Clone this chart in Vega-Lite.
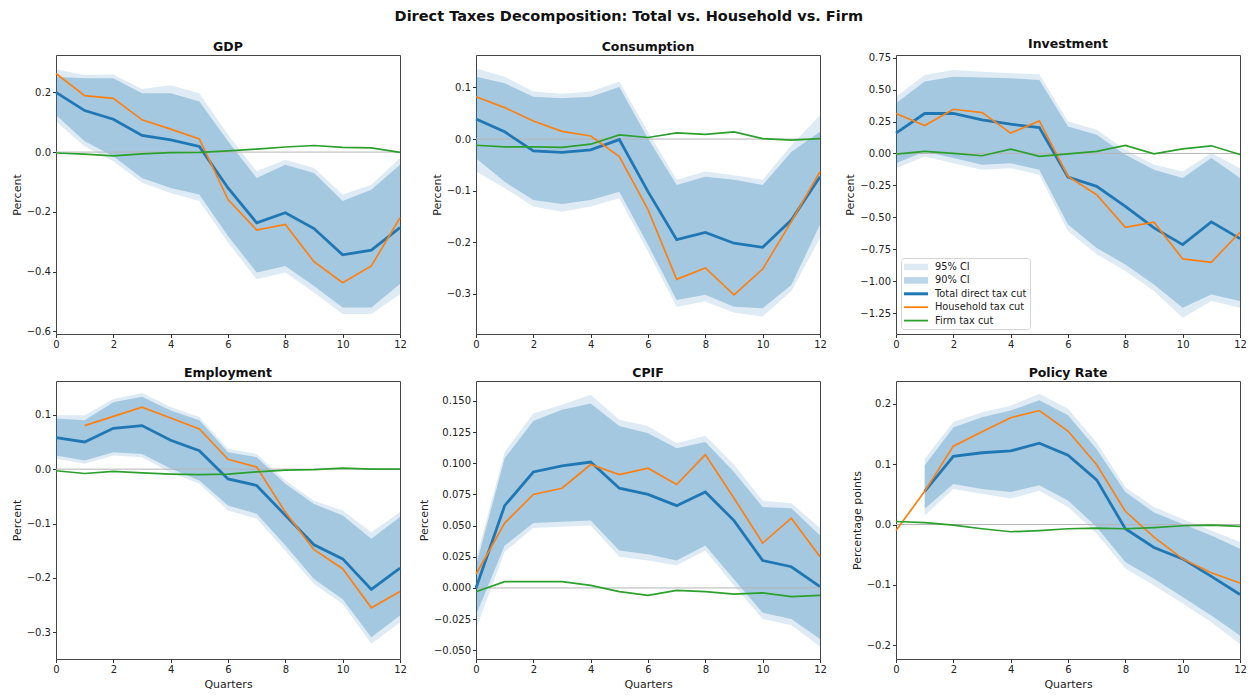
{
  "$schema": "https://vega.github.io/schema/vega-lite/v6.json",
  "background": "white",
  "padding": {"left": 10, "top": 9, "right": 10, "bottom": 5},
  "title": {"text": "Direct Taxes Decomposition: Total vs. Household vs. Firm", "fontSize": 14.5, "font": "DejaVu Sans", "fontWeight": "bold", "color": "#111", "anchor": "middle", "offset": 13},
  "config": {
    "font": "DejaVu Sans",
    "view": {"stroke": "#444", "strokeWidth": 1},
    "title": {"font": "DejaVu Sans", "fontSize": 12.5, "fontWeight": "bold", "color": "#111", "offset": 2},
    "axis": {"labelFont": "DejaVu Sans", "labelFontSize": 10, "labelColor": "#222", "titleFont": "DejaVu Sans", "titleFontSize": 11, "titleFontWeight": "normal", "titleColor": "#222", "tickColor": "#333", "tickSize": 3.5, "labelPadding": 2, "domain": false, "grid": false, "titlePadding": 4, "labelFlush": false, "labelOverlap": false, "labelBound": false}
  },
  "data": {"values": [
    {"panel": "GDP", "q": 0, "total": 0.2, "household": 0.263, "firm": -0.003, "lo90": 0.124, "hi90": 0.252, "lo95": 0.102, "hi95": 0.277},
    {"panel": "GDP", "q": 1, "total": 0.139, "household": 0.189, "firm": -0.007, "lo90": 0.036, "hi90": 0.247, "lo95": 0.019, "hi95": 0.258},
    {"panel": "GDP", "q": 2, "total": 0.11, "household": 0.18, "firm": -0.013, "lo90": -0.014, "hi90": 0.247, "lo95": -0.031, "hi95": 0.26},
    {"panel": "GDP", "q": 3, "total": 0.056, "household": 0.108, "firm": -0.006, "lo90": -0.087, "hi90": 0.197, "lo95": -0.103, "hi95": 0.211},
    {"panel": "GDP", "q": 4, "total": 0.041, "household": 0.077, "firm": -0.002, "lo90": -0.12, "hi90": 0.197, "lo95": -0.137, "hi95": 0.224},
    {"panel": "GDP", "q": 5, "total": 0.019, "household": 0.044, "firm": -0.001, "lo90": -0.142, "hi90": 0.169, "lo95": -0.164, "hi95": 0.197},
    {"panel": "GDP", "q": 6, "total": -0.12, "household": -0.159, "firm": 0.004, "lo90": -0.281, "hi90": 0.036, "lo95": -0.303, "hi95": 0.058},
    {"panel": "GDP", "q": 7, "total": -0.237, "household": -0.261, "firm": 0.01, "lo90": -0.403, "hi90": -0.087, "lo95": -0.426, "hi95": -0.064},
    {"panel": "GDP", "q": 8, "total": -0.203, "household": -0.242, "firm": 0.017, "lo90": -0.381, "hi90": -0.042, "lo95": -0.403, "hi95": -0.026},
    {"panel": "GDP", "q": 9, "total": -0.256, "household": -0.367, "firm": 0.022, "lo90": -0.448, "hi90": -0.07, "lo95": -0.47, "hi95": -0.053},
    {"panel": "GDP", "q": 10, "total": -0.344, "household": -0.437, "firm": 0.016, "lo90": -0.52, "hi90": -0.164, "lo95": -0.542, "hi95": -0.142},
    {"panel": "GDP", "q": 11, "total": -0.328, "household": -0.381, "firm": 0.014, "lo90": -0.52, "hi90": -0.126, "lo95": -0.542, "hi95": -0.109},
    {"panel": "GDP", "q": 12, "total": -0.253, "household": -0.22, "firm": -0.001, "lo90": -0.442, "hi90": -0.042, "lo95": -0.476, "hi95": -0.02},

    {"panel": "Consumption", "q": 0, "total": 0.039, "household": 0.082, "firm": -0.012, "lo90": -0.037, "hi90": 0.121, "lo95": -0.063, "hi95": 0.137},
    {"panel": "Consumption", "q": 1, "total": 0.014, "household": 0.061, "firm": -0.015, "lo90": -0.083, "hi90": 0.108, "lo95": -0.095, "hi95": 0.121},
    {"panel": "Consumption", "q": 2, "total": -0.023, "household": 0.035, "firm": -0.015, "lo90": -0.118, "hi90": 0.082, "lo95": -0.131, "hi95": 0.092},
    {"panel": "Consumption", "q": 3, "total": -0.026, "household": 0.015, "firm": -0.016, "lo90": -0.126, "hi90": 0.079, "lo95": -0.141, "hi95": 0.088},
    {"panel": "Consumption", "q": 4, "total": -0.021, "household": 0.006, "firm": -0.01, "lo90": -0.118, "hi90": 0.082, "lo95": -0.131, "hi95": 0.092},
    {"panel": "Consumption", "q": 5, "total": -0.001, "household": -0.034, "firm": 0.008, "lo90": -0.102, "hi90": 0.101, "lo95": -0.115, "hi95": 0.111},
    {"panel": "Consumption", "q": 6, "total": -0.102, "household": -0.137, "firm": 0.003, "lo90": -0.205, "hi90": 0.001, "lo95": -0.218, "hi95": 0.014},
    {"panel": "Consumption", "q": 7, "total": -0.195, "household": -0.272, "firm": 0.012, "lo90": -0.312, "hi90": -0.089, "lo95": -0.325, "hi95": -0.079},
    {"panel": "Consumption", "q": 8, "total": -0.181, "household": -0.25, "firm": 0.009, "lo90": -0.302, "hi90": -0.073, "lo95": -0.315, "hi95": -0.063},
    {"panel": "Consumption", "q": 9, "total": -0.202, "household": -0.302, "firm": 0.014, "lo90": -0.325, "hi90": -0.079, "lo95": -0.337, "hi95": -0.07},
    {"panel": "Consumption", "q": 10, "total": -0.21, "household": -0.252, "firm": 0.001, "lo90": -0.328, "hi90": -0.089, "lo95": -0.344, "hi95": -0.079},
    {"panel": "Consumption", "q": 11, "total": -0.157, "household": -0.16, "firm": -0.002, "lo90": -0.283, "hi90": -0.025, "lo95": -0.295, "hi95": -0.012},
    {"panel": "Consumption", "q": 12, "total": -0.073, "household": -0.063, "firm": 0.001, "lo90": -0.166, "hi90": 0.014, "lo95": -0.192, "hi95": 0.046},

    {"panel": "Investment", "q": 0, "total": 0.159, "household": 0.313, "firm": -0.005, "lo90": -0.076, "hi90": 0.393, "lo95": -0.115, "hi95": 0.445},
    {"panel": "Investment", "q": 1, "total": 0.313, "household": 0.219, "firm": 0.016, "lo90": 0.016, "hi90": 0.563, "lo95": -0.023, "hi95": 0.615},
    {"panel": "Investment", "q": 2, "total": 0.313, "household": 0.346, "firm": 0.0, "lo90": -0.036, "hi90": 0.6, "lo95": -0.076, "hi95": 0.654},
    {"panel": "Investment", "q": 3, "total": 0.263, "household": 0.32, "firm": -0.018, "lo90": -0.089, "hi90": 0.594, "lo95": -0.128, "hi95": 0.64},
    {"panel": "Investment", "q": 4, "total": 0.229, "household": 0.159, "firm": 0.034, "lo90": -0.076, "hi90": 0.589, "lo95": -0.115, "hi95": 0.628},
    {"panel": "Investment", "q": 5, "total": 0.203, "household": 0.255, "firm": -0.023, "lo90": -0.128, "hi90": 0.576, "lo95": -0.167, "hi95": 0.62},
    {"panel": "Investment", "q": 6, "total": -0.185, "household": -0.18, "firm": -0.003, "lo90": -0.557, "hi90": 0.211, "lo95": -0.609, "hi95": 0.25},
    {"panel": "Investment", "q": 7, "total": -0.258, "household": -0.323, "firm": 0.016, "lo90": -0.74, "hi90": 0.146, "lo95": -0.79, "hi95": 0.185},
    {"panel": "Investment", "q": 8, "total": -0.414, "household": -0.578, "firm": 0.063, "lo90": -0.87, "hi90": -0.01, "lo95": -0.92, "hi95": 0.029},
    {"panel": "Investment", "q": 9, "total": -0.583, "household": -0.539, "firm": -0.003, "lo90": -1.026, "hi90": -0.128, "lo95": -1.078, "hi95": -0.089},
    {"panel": "Investment", "q": 10, "total": -0.714, "household": -0.826, "firm": 0.036, "lo90": -1.208, "hi90": -0.193, "lo95": -1.286, "hi95": -0.141},
    {"panel": "Investment", "q": 11, "total": -0.536, "household": -0.852, "firm": 0.06, "lo90": -1.104, "hi90": -0.036, "lo95": -1.156, "hi95": 0.003},
    {"panel": "Investment", "q": 12, "total": -0.667, "household": -0.617, "firm": -0.008, "lo90": -1.156, "hi90": -0.193, "lo95": -1.208, "hi95": -0.115},

    {"panel": "Employment", "q": 0, "total": 0.058, "household": null, "firm": -0.003, "lo90": 0.025, "hi90": 0.093, "lo95": 0.019, "hi95": 0.099},
    {"panel": "Employment", "q": 1, "total": 0.05, "household": 0.08, "firm": -0.008, "lo90": 0.016, "hi90": 0.09, "lo95": 0.01, "hi95": 0.099},
    {"panel": "Employment", "q": 2, "total": 0.075, "household": 0.097, "firm": -0.004, "lo90": 0.031, "hi90": 0.123, "lo95": 0.025, "hi95": 0.129},
    {"panel": "Employment", "q": 3, "total": 0.08, "household": 0.114, "firm": -0.007, "lo90": 0.028, "hi90": 0.133, "lo95": 0.022, "hi95": 0.14},
    {"panel": "Employment", "q": 4, "total": 0.053, "household": 0.094, "firm": -0.009, "lo90": 0.001, "hi90": 0.108, "lo95": -0.006, "hi95": 0.114},
    {"panel": "Employment", "q": 5, "total": 0.034, "household": 0.074, "firm": -0.01, "lo90": -0.021, "hi90": 0.09, "lo95": -0.027, "hi95": 0.096},
    {"panel": "Employment", "q": 6, "total": -0.018, "household": 0.018, "firm": -0.009, "lo90": -0.067, "hi90": 0.031, "lo95": -0.076, "hi95": 0.037},
    {"panel": "Employment", "q": 7, "total": -0.03, "household": 0.004, "firm": -0.005, "lo90": -0.082, "hi90": 0.022, "lo95": -0.091, "hi95": 0.028},
    {"panel": "Employment", "q": 8, "total": -0.085, "household": -0.079, "firm": -0.002, "lo90": -0.14, "hi90": -0.027, "lo95": -0.15, "hi95": -0.021},
    {"panel": "Employment", "q": 9, "total": -0.139, "household": -0.148, "firm": -0.001, "lo90": -0.202, "hi90": -0.064, "lo95": -0.211, "hi95": -0.058},
    {"panel": "Employment", "q": 10, "total": -0.165, "household": -0.183, "firm": 0.002, "lo90": -0.239, "hi90": -0.085, "lo95": -0.248, "hi95": -0.076},
    {"panel": "Employment", "q": 11, "total": -0.221, "household": -0.255, "firm": 0.0, "lo90": -0.309, "hi90": -0.128, "lo95": -0.321, "hi95": -0.116},
    {"panel": "Employment", "q": 12, "total": -0.182, "household": -0.225, "firm": 0.0, "lo90": -0.269, "hi90": -0.088, "lo95": -0.282, "hi95": -0.079},

    {"panel": "CPIF", "q": 0, "total": 0.0, "household": 0.011, "firm": -0.003, "lo90": -0.022, "hi90": 0.018, "lo95": -0.033, "hi95": 0.023},
    {"panel": "CPIF", "q": 1, "total": 0.066, "household": 0.052, "firm": 0.005, "lo90": 0.034, "hi90": 0.104, "lo95": 0.029, "hi95": 0.109},
    {"panel": "CPIF", "q": 2, "total": 0.093, "household": 0.075, "firm": 0.005, "lo90": 0.052, "hi90": 0.134, "lo95": 0.048, "hi95": 0.14},
    {"panel": "CPIF", "q": 3, "total": 0.098, "household": 0.08, "firm": 0.005, "lo90": 0.053, "hi90": 0.143, "lo95": 0.049, "hi95": 0.147},
    {"panel": "CPIF", "q": 4, "total": 0.101, "household": 0.099, "firm": 0.002, "lo90": 0.054, "hi90": 0.148, "lo95": 0.05, "hi95": 0.155},
    {"panel": "CPIF", "q": 5, "total": 0.08, "household": 0.091, "firm": -0.003, "lo90": 0.03, "hi90": 0.13, "lo95": 0.025, "hi95": 0.135},
    {"panel": "CPIF", "q": 6, "total": 0.075, "household": 0.096, "firm": -0.006, "lo90": 0.027, "hi90": 0.124, "lo95": 0.022, "hi95": 0.13},
    {"panel": "CPIF", "q": 7, "total": 0.066, "household": 0.083, "firm": -0.002, "lo90": 0.022, "hi90": 0.112, "lo95": 0.018, "hi95": 0.116},
    {"panel": "CPIF", "q": 8, "total": 0.077, "household": 0.107, "firm": -0.003, "lo90": 0.034, "hi90": 0.117, "lo95": 0.03, "hi95": 0.122},
    {"panel": "CPIF", "q": 9, "total": 0.054, "household": 0.072, "firm": -0.005, "lo90": 0.007, "hi90": 0.093, "lo95": 0.002, "hi95": 0.099},
    {"panel": "CPIF", "q": 10, "total": 0.022, "household": 0.036, "firm": -0.004, "lo90": -0.02, "hi90": 0.065, "lo95": -0.025, "hi95": 0.07},
    {"panel": "CPIF", "q": 11, "total": 0.017, "household": 0.056, "firm": -0.007, "lo90": -0.025, "hi90": 0.064, "lo95": -0.03, "hi95": 0.068},
    {"panel": "CPIF", "q": 12, "total": 0.001, "household": 0.025, "firm": -0.006, "lo90": -0.041, "hi90": 0.042, "lo95": -0.047, "hi95": 0.048},

    {"panel": "Policy Rate", "q": 0, "total": null, "household": -0.01, "firm": 0.005, "lo90": null, "hi90": null, "lo95": null, "hi95": null},
    {"panel": "Policy Rate", "q": 1, "total": 0.055, "household": 0.055, "firm": 0.003, "lo90": 0.026, "hi90": 0.098, "lo95": 0.015, "hi95": 0.109},
    {"panel": "Policy Rate", "q": 2, "total": 0.113, "household": 0.13, "firm": -0.001, "lo90": 0.067, "hi90": 0.161, "lo95": 0.059, "hi95": 0.17},
    {"panel": "Policy Rate", "q": 3, "total": 0.119, "household": 0.154, "firm": -0.007, "lo90": 0.059, "hi90": 0.178, "lo95": 0.051, "hi95": 0.186},
    {"panel": "Policy Rate", "q": 4, "total": 0.122, "household": 0.177, "firm": -0.012, "lo90": 0.054, "hi90": 0.189, "lo95": 0.043, "hi95": 0.197},
    {"panel": "Policy Rate", "q": 5, "total": 0.135, "household": 0.189, "firm": -0.01, "lo90": 0.065, "hi90": 0.206, "lo95": 0.056, "hi95": 0.217},
    {"panel": "Policy Rate", "q": 6, "total": 0.115, "household": 0.155, "firm": -0.007, "lo90": 0.04, "hi90": 0.181, "lo95": 0.029, "hi95": 0.192},
    {"panel": "Policy Rate", "q": 7, "total": 0.074, "household": 0.099, "firm": -0.006, "lo90": -0.004, "hi90": 0.125, "lo95": -0.015, "hi95": 0.136},
    {"panel": "Policy Rate", "q": 8, "total": -0.007, "household": 0.022, "firm": -0.007, "lo90": -0.062, "hi90": 0.054, "lo95": -0.073, "hi95": 0.062},
    {"panel": "Policy Rate", "q": 9, "total": -0.038, "household": -0.021, "firm": -0.005, "lo90": -0.09, "hi90": 0.02, "lo95": -0.101, "hi95": 0.029},
    {"panel": "Policy Rate", "q": 10, "total": -0.057, "household": -0.057, "firm": -0.002, "lo90": -0.12, "hi90": 0.001, "lo95": -0.131, "hi95": 0.009},
    {"panel": "Policy Rate", "q": 11, "total": -0.086, "household": -0.08, "firm": -0.001, "lo90": -0.151, "hi90": -0.018, "lo95": -0.162, "hi95": -0.01},
    {"panel": "Policy Rate", "q": 12, "total": -0.116, "household": -0.097, "firm": -0.003, "lo90": -0.184, "hi90": -0.04, "lo95": -0.198, "hi95": -0.029}
  ]},
  "columns": 3,
  "bounds": "flush",
  "spacing": {"row": 47, "column": 76},
  "resolve": {"scale": {"color": "independent", "y": "independent", "x": "independent"}, "legend": {"color": "independent"}},
  "concat": [
    {
      "title": "GDP", "width": 344, "height": 279,
      "transform": [{"filter": "datum.panel === 'GDP'"}],
      "layer": [
        {"mark": "area", "encoding": {
          "x": {"field": "q", "type": "quantitative", "scale": {"domain": [0, 12], "nice": false, "zero": false}, "axis": {"values": [0, 2, 4, 6, 8, 10, 12], "tickCount": 20, "format": "d", "title": null, "labelOverlap": false}},
          "y": {"field": "lo95", "type": "quantitative", "scale": {"domain": [-0.609, 0.325], "nice": false, "zero": false}, "axis": {"values": [-0.6, -0.4, -0.2, 0, 0.2], "tickCount": 20, "format": ".1f", "title": "Percent", "labelOverlap": false}},
          "y2": {"field": "hi95"},
          "color": {"datum": "95% CI", "scale": {"domain": ["95% CI", "90% CI", "Total direct tax cut", "Household tax cut", "Firm tax cut"], "range": ["rgba(31,119,180,0.15)", "rgba(31,119,180,0.3)", "#1f77b4", "#ff7f0e", "#2ca02c"]}, "legend": null}}},
        {"mark": "area", "encoding": {"x": {"field": "q", "type": "quantitative"}, "y": {"field": "lo90", "type": "quantitative"}, "y2": {"field": "hi90"}, "color": {"datum": "90% CI", "legend": null}}},
        {"data": {"values": [{"panel": "GDP"}]}, "mark": {"type": "rule", "color": "#b5b5b5", "strokeWidth": 1}, "encoding": {"y": {"datum": 0, "type": "quantitative"}}},
        {"mark": {"type": "line", "strokeWidth": 2.8}, "encoding": {"x": {"field": "q", "type": "quantitative"}, "y": {"field": "total", "type": "quantitative"}, "color": {"datum": "Total direct tax cut", "legend": null}}},
        {"mark": {"type": "line", "strokeWidth": 1.7}, "encoding": {"x": {"field": "q", "type": "quantitative"}, "y": {"field": "household", "type": "quantitative"}, "color": {"datum": "Household tax cut", "legend": null}}},
        {"mark": {"type": "line", "strokeWidth": 1.7}, "encoding": {"x": {"field": "q", "type": "quantitative"}, "y": {"field": "firm", "type": "quantitative"}, "color": {"datum": "Firm tax cut", "legend": null}}}
      ]
    },
    {
      "title": "Consumption", "width": 344, "height": 279,
      "transform": [{"filter": "datum.panel === 'Consumption'"}],
      "layer": [
        {"mark": "area", "encoding": {
          "x": {"field": "q", "type": "quantitative", "scale": {"domain": [0, 12], "nice": false, "zero": false}, "axis": {"values": [0, 2, 4, 6, 8, 10, 12], "tickCount": 20, "format": "d", "title": null, "labelOverlap": false}},
          "y": {"field": "lo95", "type": "quantitative", "scale": {"domain": [-0.378, 0.163], "nice": false, "zero": false}, "axis": {"values": [-0.3, -0.2, -0.1, 0, 0.1], "tickCount": 20, "format": ".1f", "title": "Percent", "labelOverlap": false}},
          "y2": {"field": "hi95"},
          "color": {"datum": "95% CI", "scale": {"domain": ["95% CI", "90% CI", "Total direct tax cut", "Household tax cut", "Firm tax cut"], "range": ["rgba(31,119,180,0.15)", "rgba(31,119,180,0.3)", "#1f77b4", "#ff7f0e", "#2ca02c"]}, "legend": null}}},
        {"mark": "area", "encoding": {"x": {"field": "q", "type": "quantitative"}, "y": {"field": "lo90", "type": "quantitative"}, "y2": {"field": "hi90"}, "color": {"datum": "90% CI", "legend": null}}},
        {"data": {"values": [{"panel": "Consumption"}]}, "mark": {"type": "rule", "color": "#b5b5b5", "strokeWidth": 1}, "encoding": {"y": {"datum": 0, "type": "quantitative"}}},
        {"mark": {"type": "line", "strokeWidth": 2.8}, "encoding": {"x": {"field": "q", "type": "quantitative"}, "y": {"field": "total", "type": "quantitative"}, "color": {"datum": "Total direct tax cut", "legend": null}}},
        {"mark": {"type": "line", "strokeWidth": 1.7}, "encoding": {"x": {"field": "q", "type": "quantitative"}, "y": {"field": "household", "type": "quantitative"}, "color": {"datum": "Household tax cut", "legend": null}}},
        {"mark": {"type": "line", "strokeWidth": 1.7}, "encoding": {"x": {"field": "q", "type": "quantitative"}, "y": {"field": "firm", "type": "quantitative"}, "color": {"datum": "Firm tax cut", "legend": null}}}
      ]
    },
    {
      "title": "Investment", "width": 344, "height": 279,
      "transform": [{"filter": "datum.panel === 'Investment'"}],
      "layer": [
        {"mark": "area", "encoding": {
          "x": {"field": "q", "type": "quantitative", "scale": {"domain": [0, 12], "nice": false, "zero": false}, "axis": {"values": [0, 2, 4, 6, 8, 10, 12], "tickCount": 20, "format": "d", "title": null, "labelOverlap": false}},
          "y": {"field": "lo95", "type": "quantitative", "scale": {"domain": [-1.414, 0.771], "nice": false, "zero": false}, "axis": {"values": [-1.25, -1, -0.75, -0.5, -0.25, 0, 0.25, 0.5, 0.75], "tickCount": 20, "format": ".2f", "title": "Percent", "labelOverlap": false}},
          "y2": {"field": "hi95"},
          "color": {"datum": "95% CI", "scale": {"domain": ["95% CI", "90% CI", "Total direct tax cut", "Household tax cut", "Firm tax cut"], "range": ["rgba(31,119,180,0.15)", "rgba(31,119,180,0.3)", "#1f77b4", "#ff7f0e", "#2ca02c"]},
            "legend": {"orient": "bottom-left", "offset": 5, "title": null, "symbolType": "M-2,-0.55L2,-0.55L2,0.55L-2,0.55Z", "symbolSize": 144, "symbolOffset": 6, "symbolStrokeWidth": 0, "labelFont": "DejaVu Sans", "labelFontSize": 9.8, "labelColor": "#222", "rowPadding": 2.4, "labelOffset": 13, "padding": 3, "strokeColor": "#d5d5d5", "fillColor": "rgba(255,255,255,0.85)", "cornerRadius": 3,
              "encode": {"symbols": {"update": {
                "shape": {"signal": "datum.value === '95% CI' || datum.value === '90% CI' ? 'M-2,-0.55L2,-0.55L2,0.55L-2,0.55Z' : datum.value === 'Total direct tax cut' ? 'M-2,-0.25L2,-0.25L2,0.25L-2,0.25Z' : 'M-2,-0.15L2,-0.15L2,0.15L-2,0.15Z'"},
                "fill": {"signal": "datum.value === '95% CI' ? 'rgba(31,119,180,0.15)' : datum.value === '90% CI' ? 'rgba(31,119,180,0.3)' : datum.value === 'Total direct tax cut' ? '#1f77b4' : datum.value === 'Household tax cut' ? '#ff7f0e' : '#2ca02c'"},
                "strokeWidth": {"value": 0},
                "opacity": {"value": 1},
                "fillOpacity": {"value": 1}}}}}}}},
        {"mark": "area", "encoding": {"x": {"field": "q", "type": "quantitative"}, "y": {"field": "lo90", "type": "quantitative"}, "y2": {"field": "hi90"}, "color": {"datum": "90% CI"}}},
        {"data": {"values": [{"panel": "Investment"}]}, "mark": {"type": "rule", "color": "#b5b5b5", "strokeWidth": 1}, "encoding": {"y": {"datum": 0, "type": "quantitative"}}},
        {"mark": {"type": "line", "strokeWidth": 2.8}, "encoding": {"x": {"field": "q", "type": "quantitative"}, "y": {"field": "total", "type": "quantitative"}, "color": {"datum": "Total direct tax cut"}}},
        {"mark": {"type": "line", "strokeWidth": 1.7}, "encoding": {"x": {"field": "q", "type": "quantitative"}, "y": {"field": "household", "type": "quantitative"}, "color": {"datum": "Household tax cut"}}},
        {"mark": {"type": "line", "strokeWidth": 1.7}, "encoding": {"x": {"field": "q", "type": "quantitative"}, "y": {"field": "firm", "type": "quantitative"}, "color": {"datum": "Firm tax cut"}}}
      ]
    },
    {
      "title": "Employment", "width": 344, "height": 278,
      "transform": [{"filter": "datum.panel === 'Employment'"}],
      "layer": [
        {"mark": "area", "encoding": {
          "x": {"field": "q", "type": "quantitative", "scale": {"domain": [0, 12], "nice": false, "zero": false}, "axis": {"values": [0, 2, 4, 6, 8, 10, 12], "tickCount": 20, "format": "d", "title": "Quarters", "labelOverlap": false}},
          "y": {"field": "lo95", "type": "quantitative", "scale": {"domain": [-0.349, 0.162], "nice": false, "zero": false}, "axis": {"values": [-0.3, -0.2, -0.1, 0, 0.1], "tickCount": 20, "format": ".1f", "title": "Percent", "labelOverlap": false}},
          "y2": {"field": "hi95"},
          "color": {"datum": "95% CI", "scale": {"domain": ["95% CI", "90% CI", "Total direct tax cut", "Household tax cut", "Firm tax cut"], "range": ["rgba(31,119,180,0.15)", "rgba(31,119,180,0.3)", "#1f77b4", "#ff7f0e", "#2ca02c"]}, "legend": null}}},
        {"mark": "area", "encoding": {"x": {"field": "q", "type": "quantitative"}, "y": {"field": "lo90", "type": "quantitative"}, "y2": {"field": "hi90"}, "color": {"datum": "90% CI", "legend": null}}},
        {"data": {"values": [{"panel": "Employment"}]}, "mark": {"type": "rule", "color": "#b5b5b5", "strokeWidth": 1}, "encoding": {"y": {"datum": 0, "type": "quantitative"}}},
        {"mark": {"type": "line", "strokeWidth": 2.8}, "encoding": {"x": {"field": "q", "type": "quantitative"}, "y": {"field": "total", "type": "quantitative"}, "color": {"datum": "Total direct tax cut", "legend": null}}},
        {"mark": {"type": "line", "strokeWidth": 1.7}, "encoding": {"x": {"field": "q", "type": "quantitative"}, "y": {"field": "household", "type": "quantitative"}, "color": {"datum": "Household tax cut", "legend": null}}},
        {"mark": {"type": "line", "strokeWidth": 1.7}, "encoding": {"x": {"field": "q", "type": "quantitative"}, "y": {"field": "firm", "type": "quantitative"}, "color": {"datum": "Firm tax cut", "legend": null}}}
      ]
    },
    {
      "title": "CPIF", "width": 344, "height": 278,
      "transform": [{"filter": "datum.panel === 'CPIF'"}],
      "layer": [
        {"mark": "area", "encoding": {
          "x": {"field": "q", "type": "quantitative", "scale": {"domain": [0, 12], "nice": false, "zero": false}, "axis": {"values": [0, 2, 4, 6, 8, 10, 12], "tickCount": 20, "format": "d", "title": "Quarters", "labelOverlap": false}},
          "y": {"field": "lo95", "type": "quantitative", "scale": {"domain": [-0.057, 0.166], "nice": false, "zero": false}, "axis": {"values": [-0.05, -0.025, 0, 0.025, 0.05, 0.075, 0.1, 0.125, 0.15], "tickCount": 20, "format": ".3f", "title": "Percent", "labelOverlap": false}},
          "y2": {"field": "hi95"},
          "color": {"datum": "95% CI", "scale": {"domain": ["95% CI", "90% CI", "Total direct tax cut", "Household tax cut", "Firm tax cut"], "range": ["rgba(31,119,180,0.15)", "rgba(31,119,180,0.3)", "#1f77b4", "#ff7f0e", "#2ca02c"]}, "legend": null}}},
        {"mark": "area", "encoding": {"x": {"field": "q", "type": "quantitative"}, "y": {"field": "lo90", "type": "quantitative"}, "y2": {"field": "hi90"}, "color": {"datum": "90% CI", "legend": null}}},
        {"data": {"values": [{"panel": "CPIF"}]}, "mark": {"type": "rule", "color": "#b5b5b5", "strokeWidth": 1}, "encoding": {"y": {"datum": 0, "type": "quantitative"}}},
        {"mark": {"type": "line", "strokeWidth": 2.8}, "encoding": {"x": {"field": "q", "type": "quantitative"}, "y": {"field": "total", "type": "quantitative"}, "color": {"datum": "Total direct tax cut", "legend": null}}},
        {"mark": {"type": "line", "strokeWidth": 1.7}, "encoding": {"x": {"field": "q", "type": "quantitative"}, "y": {"field": "household", "type": "quantitative"}, "color": {"datum": "Household tax cut", "legend": null}}},
        {"mark": {"type": "line", "strokeWidth": 1.7}, "encoding": {"x": {"field": "q", "type": "quantitative"}, "y": {"field": "firm", "type": "quantitative"}, "color": {"datum": "Firm tax cut", "legend": null}}}
      ]
    },
    {
      "title": "Policy Rate", "width": 344, "height": 278,
      "transform": [{"filter": "datum.panel === 'Policy Rate'"}],
      "layer": [
        {"mark": "area", "encoding": {
          "x": {"field": "q", "type": "quantitative", "scale": {"domain": [0, 12], "nice": false, "zero": false}, "axis": {"values": [0, 2, 4, 6, 8, 10, 12], "tickCount": 20, "format": "d", "title": "Quarters", "labelOverlap": false}},
          "y": {"field": "lo95", "type": "quantitative", "scale": {"domain": [-0.223, 0.238], "nice": false, "zero": false}, "axis": {"values": [-0.2, -0.1, 0, 0.1, 0.2], "tickCount": 20, "format": ".1f", "title": "Percentage points", "labelOverlap": false}},
          "y2": {"field": "hi95"},
          "color": {"datum": "95% CI", "scale": {"domain": ["95% CI", "90% CI", "Total direct tax cut", "Household tax cut", "Firm tax cut"], "range": ["rgba(31,119,180,0.15)", "rgba(31,119,180,0.3)", "#1f77b4", "#ff7f0e", "#2ca02c"]}, "legend": null}}},
        {"mark": "area", "encoding": {"x": {"field": "q", "type": "quantitative"}, "y": {"field": "lo90", "type": "quantitative"}, "y2": {"field": "hi90"}, "color": {"datum": "90% CI", "legend": null}}},
        {"data": {"values": [{"panel": "Policy Rate"}]}, "mark": {"type": "rule", "color": "#b5b5b5", "strokeWidth": 1}, "encoding": {"y": {"datum": 0, "type": "quantitative"}}},
        {"mark": {"type": "line", "strokeWidth": 2.8}, "encoding": {"x": {"field": "q", "type": "quantitative"}, "y": {"field": "total", "type": "quantitative"}, "color": {"datum": "Total direct tax cut", "legend": null}}},
        {"mark": {"type": "line", "strokeWidth": 1.7}, "encoding": {"x": {"field": "q", "type": "quantitative"}, "y": {"field": "household", "type": "quantitative"}, "color": {"datum": "Household tax cut", "legend": null}}},
        {"mark": {"type": "line", "strokeWidth": 1.7}, "encoding": {"x": {"field": "q", "type": "quantitative"}, "y": {"field": "firm", "type": "quantitative"}, "color": {"datum": "Firm tax cut", "legend": null}}}
      ]
    }
  ]
}
